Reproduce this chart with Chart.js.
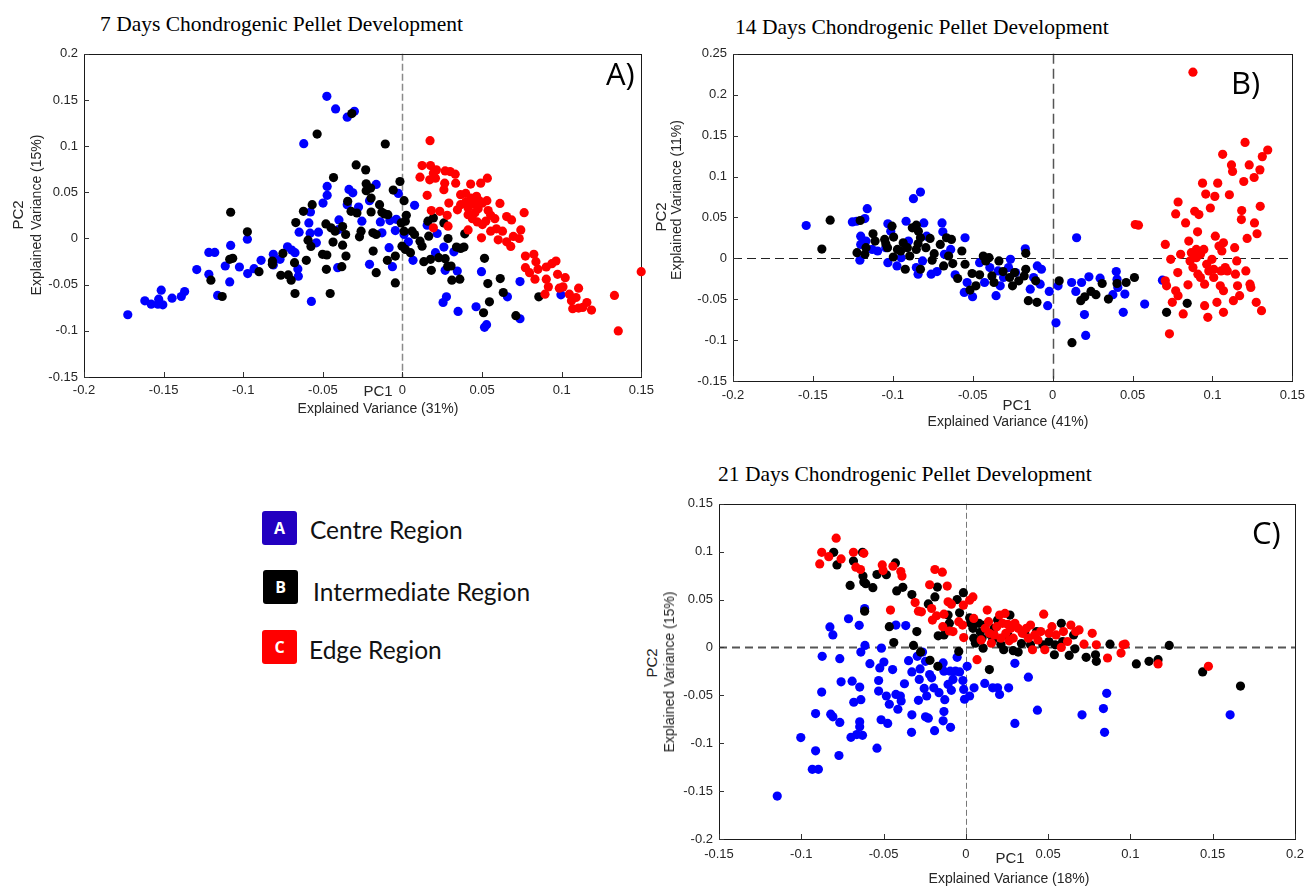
<!DOCTYPE html>
<html>
<head>
<meta charset="utf-8">
<script src="https://cdn.jsdelivr.net/npm/chart.js@4.4.0/dist/chart.umd.min.js"></script>
<style>
    body { margin: 0; background: #fff; width: 1312px; height: 886px; overflow: hidden; position: relative; }
    canvas { position: absolute; }
    .txt { position: absolute; white-space: nowrap; font-family: 'Liberation Sans', Arial, sans-serif; color: #262626; }
    .title { position: absolute; white-space: nowrap; font-family: 'Liberation Serif', 'Times New Roman', serif; font-size: 21.5px; line-height: 21px; color: #000; }
    .panel { position: absolute; font-family: 'Open Sans', sans-serif; font-size: 31px; line-height: 31px; color: #000; }
    .box { position: absolute; width: 35px; height: 34px; border-radius: 3px; color: #fff; font: bold 16px 'Open Sans', sans-serif; text-align: center; line-height: 34px; }
    .leg { position: absolute; font-family: Lato, 'Open Sans', sans-serif; font-size: 24.5px; line-height: 24px; color: #111; white-space: nowrap; }
    .c { transform: translate(-50%, -50%); }
    .rot { transform: translate(-50%, -50%) rotate(-90deg); }
</style>
</head>
<body>

<div class="title" style="left:100px; top:14px;">7 Days Chondrogenic Pellet Development</div>
<div class="title" style="left:735px; top:17px;">14 Days Chondrogenic Pellet Development</div>
<div class="title" style="left:718px; top:464px;">21 Days Chondrogenic Pellet Development</div>

<canvas id="chartA" width="660" height="380" style="left:0px; top:40px;"></canvas>
<canvas id="chartB" width="652" height="390" style="left:660px; top:40px;"></canvas>
<canvas id="chartC" width="652" height="396" style="left:660px; top:490px;"></canvas>

<div class="panel" style="left:606px; top:58px;">A)</div>
<div class="panel" style="left:1231px; top:67px;">B)</div>
<div class="panel" style="left:1252px; top:517px;">C)</div>

<!-- axis labels -->
<div class="txt rot" style="left:17px; top:215px; font-size:15px;">PC2</div>
<div class="txt rot" style="left:36px; top:215px; font-size:14px;">Explained Variance (15%)</div>
<div class="txt c" style="left:378px; top:390px; font-size:15px;">PC1</div>
<div class="txt c" style="left:378px; top:408px; font-size:14px;">Explained Variance (31%)</div>

<div class="txt rot" style="left:660px; top:217px; font-size:15px;">PC2</div>
<div class="txt rot" style="left:676px; top:200px; font-size:14px;">Explained Variance (11%)</div>
<div class="txt c" style="left:1017px; top:404px; font-size:15px;">PC1</div>
<div class="txt c" style="left:1008px; top:421px; font-size:14px;">Explained Variance (41%)</div>

<div class="txt rot" style="left:651px; top:663px; font-size:15px;">PC2</div>
<div class="txt rot" style="left:669px; top:672px; font-size:14px;">Explained Variance (15%)</div>
<div class="txt c" style="left:1010px; top:857px; font-size:15px;">PC1</div>
<div class="txt c" style="left:1009px; top:878px; font-size:14px;">Explained Variance (18%)</div>

<!-- legend -->
<div class="box" style="left:262px; top:511px; background:#2200c0;">A</div>
<div class="box" style="left:263px; top:570px; background:#000;">B</div>
<div class="box" style="left:262px; top:630px; background:#ff0000;">C</div>
<div class="leg" style="left:310px; top:518px;">Centre Region</div>
<div class="leg" style="left:313px; top:580px;">Intermediate Region</div>
<div class="leg" style="left:309px; top:638px;">Edge Region</div>

<script>
// ---- 7 days (PC1, PC2) ----
const day7Centre = [
    [-0.1725,-0.0826],[-0.1618,-0.0675],[-0.1578,-0.0711],[-0.1536,-0.0711],[-0.1505,-0.0718],[-0.1531,-0.0657],[-0.1515,-0.056],
    [-0.1447,-0.0646],[-0.1389,-0.0628],[-0.1368,-0.0574],[-0.1292,-0.0337],[-0.1216,-0.0151],[-0.1179,-0.0151],[-0.1216,-0.0388],
    [-0.1161,-0.0617],[-0.1113,-0.0298],[-0.1085,-0.047],[-0.1079,-0.0075],[-0.1024,-0.0309],[-0.0974,-0.0007],[-0.0972,-0.038],
    [-0.0932,-0.0327],[-0.0888,-0.0237],[-0.0811,-0.0172],[-0.0811,-0.0287],[-0.0769,-0.0226],[-0.0722,-0.009],[-0.0696,-0.0126],
    [-0.0675,-0.0154],[-0.0657,-0.033],[-0.0654,-0.0409],[-0.062,0.1027],[-0.0649,0.0068],[-0.058,0.0057],[-0.0528,0.0068],
    [-0.0588,0.0169],[-0.0578,0.0287],[-0.0572,-0.0682],[-0.0541,-0.0047],[-0.0499,0.0384],[-0.0473,0.0467],[-0.0473,0.0564],
    [-0.0475,0.154],[-0.042,0.1403],[-0.0399,0.0201],[-0.0402,0.0097],[-0.0407,-0.0316],[-0.0347,0.1314],[-0.0302,0.1378],
    [-0.0336,0.0531],[-0.0312,0.0495],[-0.0347,0.0366],[-0.0276,0.0341],[-0.0255,0.0187],[-0.0207,0.0409],[-0.0165,0.0585],
    [-0.0207,-0.028],[-0.0139,0.0179],[-0.0129,0.0061],[-0.0084,-0.01],[-0.0063,-0.0305],[-0.0079,0.0194],[-0.0045,0.0086],
    [-0.0026,0.0488],[-0.0039,0.0208],[0.001,0.0043],[0.0037,-0.0036],[0.0066,-0.0237],[0.0076,0.0359],[0.0155,0.0144],
    [0.0218,0.0054],[0.0207,-0.0154],[0.026,-0.0093],[0.0268,-0.0345],[0.0255,-0.0693],[0.0276,-0.0632],[0.0323,-0.0144],
    [0.0344,-0.0352],[0.0349,-0.079],[0.0496,-0.0359],[0.0462,-0.0739],[0.0515,-0.0962],[0.0528,-0.0933],[0.0659,-0.0632],
    [0.0738,-0.0467],[0.0738,-0.0869],[0.0995,-0.061]
];
const day7Intermediate = [
    [-0.1203,-0.0452],[-0.1132,-0.0628],[-0.1079,0.0284],[-0.1085,-0.0226],[-0.1066,-0.0215],[-0.0974,0.0072],[-0.0901,-0.0359],
    [-0.0817,-0.0244],[-0.0817,-0.028],[-0.0764,-0.0398],[-0.0751,-0.0162],[-0.0717,-0.0395],[-0.0699,-0.0452],[-0.0675,-0.0596],
    [-0.0678,-0.0262],[-0.067,0.0172],[-0.0622,0.0294],[-0.0593,-0.0018],[-0.0575,-0.0086],[-0.0567,0.0366],[-0.0604,-0.0237],
    [-0.0536,0.1131],[-0.0502,-0.0172],[-0.0475,-0.0179],[-0.0481,0.0158],[-0.0478,-0.0334],[-0.0454,-0.0596],[-0.0433,0.066],
    [-0.0449,0.0115],[-0.0423,0.0079],[-0.0436,-0.0039],[-0.0376,0.0129],[-0.0357,0.0043],[-0.0376,-0.0072],[-0.0355,-0.019],
    [-0.0381,-0.0305],[-0.0344,0.0402],[-0.0323,0.0294],[-0.0286,0.0276],[-0.0318,0.1353],[-0.0291,0.0797],[-0.027,0.0018],
    [-0.026,0.0079],[-0.0231,0.0743],[-0.0228,0.0592],[-0.0228,0.0517],[-0.02,0.0546],[-0.0197,0.0287],[-0.0197,0.0438],
    [-0.0186,0.0061],[-0.0165,0.0043],[-0.0184,-0.0136],[-0.0165,-0.037],[-0.0144,0.0366],[-0.0129,0.0284],[-0.0108,0.1023],
    [-0.0113,0.0266],[-0.0092,0.0258],[-0.0095,-0.0237],[-0.0058,0.0524],[-0.0045,-0.019],[-0.0045,-0.0481],[-0.0016,0.0617],
    [0.001,0.0409],[-0.0008,0.0169],[0.0018,0.0187],[0.001,0.0079],[-0.0003,-0.0083],[0.0018,-0.0118],[0.005,-0.0154],
    [0.006,0.0079],[0.0076,0.0043],[0.0024,0.0251],[0.011,-0.0029],[0.0123,-0.0083],[0.0134,-0.0251],[0.016,0.0187],
    [0.0165,0.0025],[0.0176,-0.0226],[0.0181,-0.0345],[0.0194,0.0223],[0.0228,-0.0208],[0.026,0.0169],[0.0286,0.0],
    [0.0268,-0.0219],[0.0284,-0.0302],[0.0305,-0.0298],[0.031,-0.0452],[0.0339,-0.0093],[0.0365,-0.0108],[0.0386,-0.0093],
    [0.0391,0.005],[0.036,-0.0441],[0.0515,-0.0215],[0.0536,-0.0488],[0.0546,-0.0686],[0.0509,-0.0804],[0.0614,-0.0434],
    [0.0633,-0.0585],[0.0712,-0.0836],[0.0856,-0.0632]
];
const day7Edge = [
    [0.0173,0.1059],[0.0123,0.079],[0.0176,0.079],[0.011,0.0664],[0.0155,0.0467],[0.0171,0.0635],[0.0207,0.0653],
    [0.0213,0.0743],[0.0194,0.0707],[0.0181,0.0302],[0.0234,0.0294],[0.0268,0.0732],[0.0299,0.0725],[0.0331,0.0696],
    [0.0265,0.0599],[0.0334,0.0599],[0.026,0.0528],[0.0291,0.0384],[0.0281,0.0251],[0.0286,0.0133],[0.0194,0.0115],
    [0.0365,0.0474],[0.0397,0.0488],[0.0431,0.0438],[0.0465,0.0456],[0.0428,0.0589],[0.0491,0.0599],[0.0533,0.0653],
    [0.0365,0.0366],[0.0397,0.0395],[0.0412,0.033],[0.0444,0.0373],[0.0475,0.0323],[0.0502,0.0384],[0.053,0.0409],
    [0.0538,0.0302],[0.0412,0.0258],[0.0439,0.0215],[0.047,0.0179],[0.0502,0.0151],[0.0523,0.0187],[0.0554,0.0251],
    [0.058,0.0215],[0.0412,0.0093],[0.0496,0.0007],[0.0554,0.0079],[0.0601,-0.0014],[0.0628,0.0079],[0.0654,-0.0036],
    [0.068,-0.0086],[0.0696,0.0022],[0.0612,0.038],[0.0654,0.0237],[0.0685,0.0201],[0.0743,0.0093],[0.0764,0.028],
    [0.0733,0.0],[0.0772,-0.019],[0.0825,-0.0172],[0.0838,-0.0251],[0.0772,-0.0316],[0.0798,-0.037],[0.0851,-0.0334],
    [0.0832,-0.0441],[0.0903,-0.0309],[0.0938,-0.0273],[0.0964,-0.0244],[0.0903,-0.0441],[0.0916,-0.0524],[0.0895,-0.0603],
    [0.0974,-0.0388],[0.1022,-0.0424],[0.1008,-0.0524],[0.0985,-0.0538],[0.1048,-0.0603],[0.1106,-0.0538],[0.1061,-0.0675],
    [0.109,-0.0639],[0.1069,-0.0761],[0.1106,-0.0754],[0.1132,-0.0747],[0.1158,-0.0693],[0.1187,-0.0775],[0.1331,-0.0617],
    [0.1355,-0.1001],[0.1499,-0.0359],[0.0455,0.028],[0.048,0.041],[0.0345,0.031],[0.059,0.0105]
];

// ---- 14 days ----
const day14Centre = [
    [-0.1542,0.0401],[-0.1253,0.0445],[-0.1227,0.0453],[-0.1175,0.0486],[-0.116,0.0607],[-0.1201,0.0271],[-0.1201,0.017],
    [-0.1206,-0.0024],[-0.1168,0.0211],[-0.1129,0.0109],[-0.1095,0.0089],[-0.1031,0.0421],[-0.1013,0.0332],[-0.1031,-0.0053],
    [-0.1044,0.013],[-0.0974,-0.0093],[-0.0948,0.0008],[-0.0917,0.0453],[-0.0902,0.0211],[-0.0871,0.0729],[-0.0827,0.081],
    [-0.0842,-0.0194],[-0.0853,-0.0113],[-0.0806,0.0433],[-0.0814,-0.0032],[-0.0788,0.0271],[-0.076,-0.0194],[-0.0723,-0.0162],
    [-0.0692,0.0433],[-0.0687,0.0324],[-0.0677,0.0049],[-0.0638,0.0109],[-0.061,-0.0202],[-0.0548,0.0251],[-0.0553,-0.0417],
    [-0.0535,-0.0296],[-0.0501,-0.047],[-0.0457,-0.0053],[-0.0426,-0.0296],[-0.0393,-0.0113],[-0.0354,-0.0457],[-0.0341,-0.0154],
    [-0.0328,-0.0336],[-0.0307,-0.0235],[-0.0264,-0.0012],[-0.0276,-0.0113],[-0.0232,-0.0174],[-0.0171,0.0117],[-0.014,-0.0377],
    [-0.0119,-0.0235],[-0.0096,-0.0093],[-0.007,-0.0134],[-0.0078,-0.0316],[-0.0031,-0.0579],[-0.0021,-0.0405],[0.0021,-0.0789],
    [0.0034,-0.0336],[0.0119,-0.0296],[0.015,0.0251],[0.0145,-0.0405],[0.0181,-0.0296],[0.0199,-0.0688],[0.0207,-0.0943],
    [0.0227,-0.0227],[0.0297,-0.0243],[0.0377,-0.0445],[0.0398,-0.0162],[0.0403,-0.0255],[0.0408,-0.0356],[0.0442,-0.066],
    [0.0452,-0.0437],[0.0576,-0.0559],[0.0687,-0.0267]
];
const day14Intermediate = [
    [-0.1444,0.0113],[-0.1392,0.0466],[-0.1224,0.0069],[-0.1204,0.0462],[-0.1175,0.0049],[-0.1168,0.013],[-0.1124,0.03],
    [-0.1111,0.0211],[-0.1051,0.0231],[-0.1044,0.0178],[-0.1033,0.013],[-0.1005,0.0393],[-0.0995,0.0259],[-0.0997,0.0016],
    [-0.0971,0.0109],[-0.0951,0.0089],[-0.0935,0.019],[-0.0922,-0.0134],[-0.0909,0.013],[-0.0894,0.0028],[-0.0878,0.0372],
    [-0.0853,0.0405],[-0.084,0.0332],[-0.0842,0.0178],[-0.0853,0.0109],[-0.0827,0.0251],[-0.0827,-0.0134],[-0.0793,0.013],
    [-0.0767,0.0243],[-0.0754,-0.0024],[-0.0741,0.0057],[-0.0703,0.017],[-0.0682,-0.0093],[-0.0664,0.0251],[-0.0651,0.0028],
    [-0.0633,0.0231],[-0.0625,-0.0065],[-0.0594,-0.0247],[-0.0568,0.0089],[-0.0548,-0.0073],[-0.0517,-0.0389],[-0.0504,-0.0186],
    [-0.048,-0.0336],[-0.0457,-0.0202],[-0.0434,0.0028],[-0.0418,-0.0032],[-0.0398,0.0008],[-0.038,-0.0215],[-0.0367,-0.0296],
    [-0.0336,-0.0032],[-0.031,-0.0162],[-0.0269,-0.0235],[-0.0251,-0.0336],[-0.0238,-0.0174],[-0.0212,-0.0275],[-0.0178,-0.0215],
    [-0.0168,0.0061],[-0.0168,-0.0134],[-0.0152,-0.0518],[-0.0106,-0.0275],[-0.0098,-0.0538],[0.0041,-0.0275],[0.0121,-0.1032],
    [0.0176,-0.0518],[0.0201,-0.047],[0.024,-0.0405],[0.0271,-0.0445],[0.031,-0.0308],[0.0349,-0.0498],[0.0403,-0.0308],
    [0.046,-0.0296],[0.0512,-0.0235],[0.0713,-0.066],[0.0842,-0.0551]
];
const day14Edge = [
    [0.0878,0.2275],[0.0517,0.0413],[0.0537,0.0405],[0.0705,0.017],[0.0739,-0.0012],[0.0705,-0.0275],[0.0713,-0.0336],
    [0.0731,-0.0923],[0.0749,-0.0538],[0.077,-0.0397],[0.0783,-0.0174],[0.0785,-0.0457],[0.077,0.0543],[0.0785,0.0688],
    [0.0801,0.0049],[0.0817,-0.068],[0.0832,0.0433],[0.0847,-0.0324],[0.0852,0.0211],[0.0868,0.0069],[0.0878,-0.0113],
    [0.0889,0.0575],[0.0907,0.0324],[0.0915,0.0534],[0.0899,0.0109],[0.0909,-0.0194],[0.0925,-0.0235],[0.0938,0.0919],
    [0.0946,0.0109],[0.0951,-0.0316],[0.0951,-0.0579],[0.0958,0.0785],[0.0971,-0.0721],[0.0987,0.0615],[0.0997,-0.0012],
    [0.1008,-0.0235],[0.1015,0.0757],[0.1018,0.0271],[0.1028,-0.0538],[0.1033,0.0919],[0.1041,0.015],[0.1049,-0.0336],
    [0.1059,0.0089],[0.1064,0.1271],[0.1069,0.019],[0.1069,-0.0397],[0.1069,-0.066],[0.108,-0.0113],[0.1093,-0.0154],
    [0.1106,0.0777],[0.1119,0.1142],[0.1126,0.1061],[0.1131,-0.0518],[0.1139,0.013],[0.1152,-0.0032],[0.1157,-0.0336],
    [0.117,-0.0457],[0.1181,0.0474],[0.1183,0.0583],[0.1196,0.0939],[0.1204,0.1417],[0.1209,-0.0154],[0.1217,0.0243],
    [0.123,0.1142],[0.1235,-0.0316],[0.124,-0.0356],[0.1261,0.0988],[0.1263,0.0433],[0.1274,-0.0538],[0.1279,0.03],
    [0.1297,0.1081],[0.1299,0.0636],[0.1307,-0.064],[0.1312,0.1243],[0.1346,0.1324],[0.0925,0.0049],[0.0964,-0.0073],
    [0.0977,-0.0154],[0.086,-0.0032],[0.0899,0.0008],[0.1008,-0.0134],[0.1054,-0.0154],[0.1144,-0.0194]
];

// ---- 21 days ----
const day21Centre = [
    [-0.1146,-0.1552],[-0.1003,-0.0941],[-0.0933,-0.1272],[-0.0896,-0.1272],[-0.0913,-0.1079],[-0.0913,-0.069],[-0.0873,-0.0093],
    [-0.0876,-0.0466],[-0.0826,0.0214],[-0.0808,0.0131],[-0.0821,-0.0697],[-0.0808,-0.0724],[-0.0771,-0.1128],[-0.0766,-0.0117],
    [-0.0766,-0.0783],[-0.0758,-0.0359],[-0.0713,0.03],[-0.0698,-0.0938],[-0.0691,-0.0352],[-0.0681,-0.0572],[-0.0663,-0.091],
    [-0.0648,0.0231],[-0.0645,-0.0414],[-0.0638,-0.0048],[-0.0638,-0.0545],[-0.0645,-0.0776],[-0.0645,-0.0828],[-0.0628,-0.0917],
    [-0.0615,0.0407],[-0.0613,0.0021],[-0.0583,-0.0169],[-0.054,-0.1052],[-0.053,-0.0345],[-0.053,-0.0455],[-0.0523,-0.0214],
    [-0.0513,-0.0007],[-0.0515,-0.0755],[-0.0498,-0.0152],[-0.0483,-0.0507],[-0.0475,-0.0793],[-0.0465,-0.0593],[-0.0445,-0.0231],
    [-0.0425,0.0234],[-0.0425,-0.049],[-0.0413,-0.0645],[-0.0398,-0.0507],[-0.0393,-0.0559],[-0.0373,-0.0379],[-0.0365,0.0228],
    [-0.0348,-0.0138],[-0.0328,-0.0255],[-0.0328,-0.0703],[-0.033,-0.0886],[-0.0295,-0.0093],[-0.0288,-0.0552],[-0.0283,-0.0334],
    [-0.0278,-0.0224],[-0.0263,-0.0048],[-0.0253,-0.0428],[-0.0245,-0.0145],[-0.0245,-0.0724],[-0.0238,-0.0507],[-0.0228,-0.0738],
    [-0.022,-0.0283],[-0.0208,-0.0317],[-0.0195,-0.0421],[-0.019,-0.0869],[-0.0163,-0.0472],[-0.0138,-0.0162],[-0.0133,-0.0248],
    [-0.0138,-0.0766],[-0.0133,-0.0669],[-0.0128,-0.0545],[-0.0108,-0.0386],[-0.0095,-0.0248],[-0.0093,-0.0834],[-0.0088,-0.0448],
    [-0.0078,-0.0334],[-0.0063,-0.0248],[-0.0053,-0.0103],[-0.0038,-0.0255],[-0.0018,-0.0345],[-0.0013,-0.0438],[-0.0008,-0.0541],
    [0.0008,-0.0197],[0.0023,-0.0507],[0.005,-0.0421],[0.0115,-0.0376],[0.0163,-0.0421],[0.0193,-0.0421],[0.0205,-0.049],
    [0.026,-0.0421],[0.0298,-0.0166],[0.0298,-0.0793],[0.038,-0.031],[0.0435,-0.0655],[0.0706,-0.0703],[0.0836,-0.0638],
    [0.0843,-0.0886],[0.0856,-0.0479],[0.1606,-0.0703]
];
const day21Intermediate = [
    [-0.0803,0.0993],[-0.0783,0.0862],[-0.0703,0.0648],[-0.0683,0.0903],[-0.0628,0.0993],[-0.0625,0.0745],[-0.062,0.0683],
    [-0.0608,0.0666],[-0.0615,0.0379],[-0.0565,0.0624],[-0.054,0.0762],[-0.0483,0.0759],[-0.0465,0.0217],[-0.0438,0.0052],
    [-0.0428,0.0883],[-0.042,0.059],[-0.0383,0.0628],[-0.0328,0.0552],[-0.0318,0.0021],[-0.0298,0.0166],[-0.0275,-0.0048],
    [-0.0228,0.0455],[-0.0218,-0.0134],[-0.0188,0.0528],[-0.0173,0.0631],[-0.017,-0.0197],[-0.0168,0.0121],[-0.0133,0.0131],
    [-0.0108,0.0338],[-0.01,0.0252],[-0.0053,0.05],[-0.0043,-0.0041],[-0.0038,0.0362],[-0.0015,0.0572],[0.0023,0.031],
    [0.003,0.0252],[0.0043,0.02],[0.0048,0.0097],[0.0058,0.0045],[0.008,0.0252],[0.0088,0.0159],[0.0098,0.0097],
    [0.0105,-0.0007],[0.0118,0.0234],[0.0143,-0.0231],[0.0145,0.0138],[0.0163,0.0079],[0.0173,0.02],[0.0193,0.0286],
    [0.0213,0.0034],[0.023,-0.0024],[0.0255,0.0131],[0.0268,0.0338],[0.0288,-0.0034],[0.0318,-0.0048],[0.0338,0.0041],
    [0.0358,0.0148],[0.0393,0.0028],[0.043,0.0166],[0.0468,0.0028],[0.0505,0.0062],[0.0538,-0.0076],[0.0543,0.0028],
    [0.058,0.0252],[0.0588,0.0062],[0.0628,-0.0083],[0.0655,0.0131],[0.0663,-0.0014],[0.0731,-0.0103],[0.0788,-0.0076],
    [0.0793,-0.0145],[0.0876,0.0034],[0.1036,-0.0172],[0.1113,-0.0145],[0.1168,-0.0128],[0.1236,0.0021],[0.1439,-0.0255],
    [0.1669,-0.0403]
];
const day21Edge = [
    [-0.0888,0.0872],[-0.0876,0.0993],[-0.0833,0.0948],[-0.0788,0.1141],[-0.0758,0.0924],[-0.0683,0.0993],[-0.0668,0.0838],
    [-0.064,0.0814],[-0.062,0.0983],[-0.0508,0.0862],[-0.0503,0.0803],[-0.0458,0.039],[-0.0443,0.0848],[-0.0395,0.0793],
    [-0.0388,0.0745],[-0.0308,0.0469],[-0.0288,0.0379],[-0.027,0.0372],[-0.022,0.0655],[-0.0208,0.0407],[-0.0203,0.0286],
    [-0.0188,0.0814],[-0.0178,0.0331],[-0.0143,0.0786],[-0.014,0.0217],[-0.0133,0.0348],[-0.0113,0.0641],[-0.0108,0.0476],
    [-0.01,0.0172],[-0.0088,0.0452],[-0.0078,0.0166],[-0.0043,0.0269],[-0.002,0.0234],[-0.0015,0.0441],[-0.0013,0.0103],
    [0.0023,0.0493],[0.0043,0.0528],[0.0048,0.0303],[0.0068,-0.0128],[0.0093,0.0079],[0.0118,0.02],[0.013,0.039],
    [0.0138,0.0269],[0.0143,0.0148],[0.0155,0.0045],[0.0173,0.0131],[0.0188,0.0217],[0.0205,0.0338],[0.0213,0.0097],
    [0.0223,0.0252],[0.0238,0.0355],[0.0243,0.0148],[0.0255,0.0241],[0.0263,0.0069],[0.0273,0.02],[0.0288,0.0097],
    [0.0298,0.0252],[0.0318,0.02],[0.0343,0.0148],[0.0368,0.02],[0.038,0.0097],[0.0393,0.0234],[0.0405,-0.0024],
    [0.0418,0.0131],[0.0438,0.0079],[0.0455,0.0166],[0.0473,0.0348],[0.048,-0.0024],[0.0505,0.0148],[0.0523,0.0217],
    [0.0548,0.0131],[0.058,0.0],[0.0593,0.0166],[0.0618,0.0062],[0.0638,0.0234],[0.0668,0.0166],[0.0688,0.0183],
    [0.0718,0.0034],[0.0768,0.0148],[0.0793,0.0028],[0.0861,-0.011],[0.0943,-0.0059],[0.0956,0.0028],[0.0968,0.0034],
    [0.1168,-0.0172],[0.1474,-0.0197]
];

// axis ranges and ticks
const xTicksA = [-0.2, 0.15], yTicksA = [-0.15, 0.2];
const xTicksB = [-0.2, 0.15], yTicksB = [-0.15, 0.25];
const xTicksC = [-0.15, 0.2], yTicksC = [-0.2, 0.15];
const tickStep = 0.05;

const colors = { centre: '#0000ff', intermediate: '#000000', edge: '#ff0000' };

// box, inward ticks and dashed zero lines
const framePlugin = {
    id: 'frame',
    beforeDatasetsDraw(chart, args, opts) {
        const { ctx, chartArea: a, scales } = chart;
        const xs = scales.x, ys = scales.y;
        ctx.save();
        if (opts.hLine) {
            const py = Math.round(ys.getPixelForValue(0)) + 0.5;
            ctx.strokeStyle = opts.hLine.color;
            ctx.lineWidth = opts.hLine.width;
            ctx.setLineDash(opts.hLine.dash);
            ctx.beginPath(); ctx.moveTo(a.left, py); ctx.lineTo(a.right, py); ctx.stroke();
        }
        if (opts.vLine) {
            const px = Math.round(xs.getPixelForValue(0)) + 0.5;
            ctx.strokeStyle = opts.vLine.color;
            ctx.lineWidth = opts.vLine.width;
            ctx.setLineDash(opts.vLine.dash);
            ctx.beginPath(); ctx.moveTo(px, a.top); ctx.lineTo(px, a.bottom); ctx.stroke();
        }
        ctx.setLineDash([]);
        ctx.strokeStyle = '#1a1a1a';
        ctx.lineWidth = 1;
        ctx.strokeRect(Math.round(a.left) + 0.5, Math.round(a.top) + 0.5, Math.round(a.right - a.left), Math.round(a.bottom - a.top));
        ctx.strokeStyle = '#333';
        ctx.beginPath();
        xs.ticks.forEach(t => {
            const px = Math.round(xs.getPixelForValue(t.value)) + 0.5;
            ctx.moveTo(px, a.bottom); ctx.lineTo(px, a.bottom - 5);
        });
        ys.ticks.forEach(t => {
            const py = Math.round(ys.getPixelForValue(t.value)) + 0.5;
            ctx.moveTo(a.left, py); ctx.lineTo(a.left + 5, py);
        });
        ctx.stroke();
        ctx.restore();
    }
};

function fmt(v) {
    return String(Math.round(v * 100) / 100);
}

function makeSet(label, data, color) {
    return {
        label: label,
        data: data.map(p => ({ x: p[0], y: p[1] })),
        backgroundColor: color,
        borderWidth: 0,
        pointRadius: 4.6,
        clip: false
    };
}

function createChart(id, sets, xr, yr, box, lines) {
    const tickFont = { family: "'Liberation Sans', Arial, sans-serif", size: 13 };
    const ctx = document.getElementById(id).getContext('2d');
    return new Chart(ctx, {
        type: 'scatter',
        data: {
            datasets: [
                makeSet('Edge Region', sets[2], colors.edge),
                makeSet('Intermediate Region', sets[1], colors.intermediate),
                makeSet('Centre Region', sets[0], colors.centre)
            ]
        },
        options: {
            responsive: false,
            animation: false,
            events: [],
            layout: { padding: box.padding },
            plugins: {
                legend: { display: false },
                tooltip: { enabled: false },
                frame: lines
            },
            scales: {
                x: {
                    type: 'linear',
                    min: xr[0], max: xr[1],
                    ticks: { stepSize: tickStep, callback: fmt, font: tickFont, color: '#262626', padding: box.xPad, maxRotation: 0, autoSkip: false },
                    grid: { display: false, drawTicks: false, tickLength: 0 },
                    border: { display: false },
                    afterFit: (s) => { s.height = box.xHeight; }
                },
                y: {
                    type: 'linear',
                    min: yr[0], max: yr[1],
                    ticks: { stepSize: tickStep, callback: fmt, font: tickFont, color: '#262626', padding: 6, autoSkip: false },
                    grid: { display: false, drawTicks: false, tickLength: 0 },
                    border: { display: false },
                    afterFit: (s) => { s.width = box.yWidth; }
                }
            }
        },
        plugins: [framePlugin]
    });
}

createChart('chartA', [day7Centre, day7Intermediate, day7Edge], xTicksA, yTicksA,
    { padding: { left: 0, top: 11, right: 15, bottom: 0 }, yWidth: 84, xHeight: 43, xPad: 6 },
    { vLine: { color: '#8a8a8a', width: 1.5, dash: [7, 3] } });

createChart('chartB', [day14Centre, day14Intermediate, day14Edge], xTicksB, yTicksB,
    { padding: { left: 0, top: 12, right: 16, bottom: 0 }, yWidth: 73, xHeight: 49, xPad: 7 },
    { vLine: { color: '#555', width: 1.5, dash: [10, 5] }, hLine: { color: '#222', width: 1.2, dash: [9, 5] } });

createChart('chartC', [day21Centre, day21Intermediate, day21Edge], xTicksC, yTicksC,
    { padding: { left: 0, top: 11, right: 12, bottom: 0 }, yWidth: 59, xHeight: 47, xPad: 8 },
    { vLine: { color: '#777', width: 1, dash: [6, 3] }, hLine: { color: '#555', width: 2, dash: [8, 5] } });
</script>
</body>
</html>
